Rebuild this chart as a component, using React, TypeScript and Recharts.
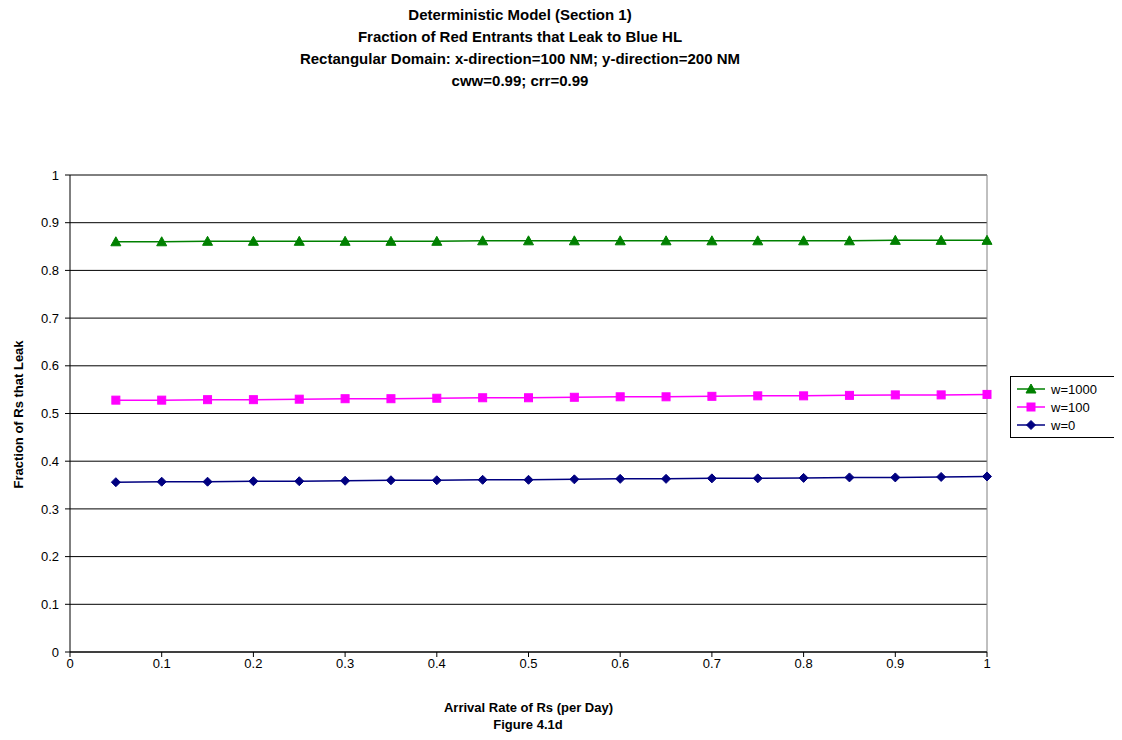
import React from 'react'
import { LineChart, Line, XAxis, YAxis, CartesianGrid, ReferenceLine } from 'recharts'

// arrival rate (per day)
const rates = [0.05, 0.1, 0.15, 0.2, 0.25, 0.3, 0.35, 0.4, 0.45, 0.5, 0.55, 0.6, 0.65, 0.7, 0.75, 0.8, 0.85, 0.9, 0.95, 1]

const w1000 = [0.860, 0.860, 0.861, 0.861, 0.861, 0.861, 0.861, 0.861, 0.862, 0.862, 0.862, 0.862, 0.862, 0.862, 0.862, 0.862, 0.862, 0.863, 0.863, 0.863]
const w100 = [0.528, 0.528, 0.529, 0.529, 0.530, 0.531, 0.531, 0.532, 0.533, 0.533, 0.534, 0.535, 0.535, 0.536, 0.537, 0.537, 0.538, 0.539, 0.539, 0.540]
const w0 = [0.356, 0.357, 0.357, 0.358, 0.358, 0.359, 0.360, 0.360, 0.361, 0.361, 0.362, 0.363, 0.363, 0.364, 0.364, 0.365, 0.366, 0.366, 0.367, 0.368]

const xTicks = [0, 0.1, 0.2, 0.3, 0.4, 0.5, 0.6, 0.7, 0.8, 0.9, 1]
const yTicks = [0, 0.1, 0.2, 0.3, 0.4, 0.5, 0.6, 0.7, 0.8, 0.9, 1]

const titleLines = [
  'Deterministic Model (Section 1)',
  'Fraction of Red Entrants that Leak to Blue HL',
  'Rectangular Domain: x-direction=100 NM; y-direction=200 NM',
  'cww=0.99; crr=0.99',
]

const SERIES = [
  { key: 'w1000', name: 'w=1000', color: '#008000', shape: 'triangle' },
  { key: 'w100', name: 'w=100', color: '#FF00FF', shape: 'square' },
  { key: 'w0', name: 'w=0', color: '#000080', shape: 'diamond' },
]

const data = rates.map((r, i) => ({ rate: r, w1000: w1000[i], w100: w100[i], w0: w0[i] }))

const FONT = 'Arial, "Liberation Sans", sans-serif'

function Marker({ shape, cx, cy, color }: { shape: string; cx: number; cy: number; color: string }) {
  if (shape === 'triangle')
    return <polygon points={`${cx},${cy - 5} ${cx - 5},${cy + 4} ${cx + 5},${cy + 4}`} fill={color} stroke={color} />
  if (shape === 'square')
    return <rect x={cx - 4} y={cy - 4} width={8} height={8} fill={color} stroke={color} />
  return <polygon points={`${cx},${cy - 4.5} ${cx + 4.5},${cy} ${cx},${cy + 4.5} ${cx - 4.5},${cy}`} fill={color} stroke={color} />
}

function makeDot(shape: string, color: string) {
  return (p: any) => {
    if (p.cx == null || p.cy == null) return <g key={p.index} />
    return <Marker key={p.index} shape={shape} cx={p.cx} cy={p.cy} color={color} />
  }
}

function LegendBox() {
  return (
    <div style={{ position: 'absolute', left: 1002, top: 368, border: '1px solid #000', background: '#fff', width: 110, padding: '3px 0', fontFamily: FONT, fontSize: 13 }}>
      {SERIES.map((s) => (
        <div key={s.key} style={{ display: 'flex', alignItems: 'center', height: 18 }}>
          <svg width={40} height={14}>
            <line x1={6} x2={34} y1={7} y2={7} stroke={s.color} strokeWidth={1.5} />
            <Marker shape={s.shape} cx={20} cy={7} color={s.color} />
          </svg>
          <span style={{ color: '#000' }}>{s.name}</span>
        </div>
      ))}
    </div>
  )
}

export default function App() {
  return (
    <div style={{ position: 'relative', width: 1114, height: 732, background: '#fff', fontFamily: FONT }}>
      <div style={{ position: 'absolute', left: 0, width: 1024, top: -4, textAlign: 'center', fontWeight: 'bold', fontSize: 15, lineHeight: '22px', color: '#000' }}>
        {titleLines.map((t) => (
          <div key={t}>{t}</div>
        ))}
      </div>
      <LineChart width={1114} height={732} data={data} margin={{ top: 167, right: 135, left: 22, bottom: 58 }}>
        <CartesianGrid vertical={false} stroke="#000" horizontalValues={yTicks} />
        <ReferenceLine x={1} stroke="#808080" strokeWidth={1} />
        <XAxis
          dataKey="rate"
          type="number"
          domain={[0, 1]}
          ticks={xTicks}
          stroke="#000"
          tickSize={5}
          tick={{ fill: '#000', fontSize: 13, fontFamily: FONT }}
          height={30}
          label={{ value: 'Arrival Rate of Rs (per Day)', position: 'insideBottom', offset: -30, fill: '#000', fontSize: 13, fontWeight: 'bold', fontFamily: FONT }}
        />
        <YAxis
          type="number"
          domain={[0, 1]}
          ticks={yTicks}
          stroke="#000"
          tickSize={5}
          tickMargin={6}
          width={40}
          tick={{ fill: '#000', fontSize: 13, fontFamily: FONT }}
          label={{ value: 'Fraction of Rs that Leak', angle: -90, position: 'insideLeft', offset: -12, dy: 75, fill: '#000', fontSize: 13, fontWeight: 'bold', fontFamily: FONT }}
        />
        {SERIES.map((s) => (
          <Line
            key={s.key}
            dataKey={s.key}
            name={s.name}
            stroke={s.color}
            strokeWidth={1.5}
            dot={makeDot(s.shape, s.color)}
            isAnimationActive={false}
          />
        ))}
      </LineChart>
      <div style={{ position: 'absolute', left: 0, width: 1040, top: 709, textAlign: 'center', fontWeight: 'bold', fontSize: 13, color: '#000' }}>
        Figure 4.1d
      </div>
      <LegendBox />
    </div>
  )
}
